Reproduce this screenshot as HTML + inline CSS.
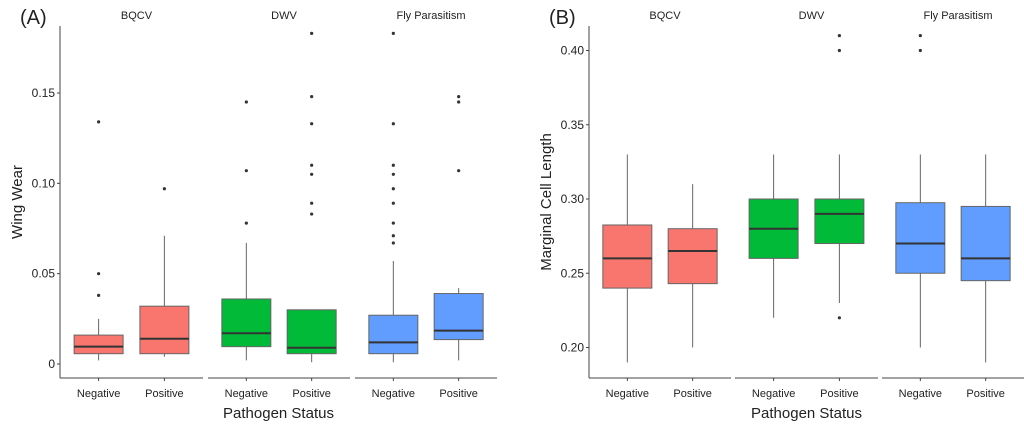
<!DOCTYPE html>
<html><head><meta charset="utf-8">
<style>
body{margin:0;background:#fff;}
svg text{font-family:"Liberation Sans",sans-serif;fill:#222;}
</style></head>
<body>
<svg id="chart" width="1024" height="433" viewBox="0 0 1024 433" xmlns="http://www.w3.org/2000/svg"></svg>
<script>
// ---- data ----
const facets = ["BQCV", "DWV", "Fly Parasitism"];
const statuses = ["Negative", "Positive"];
const colors = ["#F8766D", "#00BA38", "#619CFF"];
// Panel A: Wing Wear  [lowWhisker, q1, median, q3, highWhisker]
const wingStats = [
  [0.002, 0.0057, 0.0096, 0.016, 0.025],
  [0.004, 0.0057, 0.014, 0.032, 0.071],
  [0.002, 0.0096, 0.017, 0.036, 0.067],
  [0.001, 0.0057, 0.009, 0.030, 0.030],
  [0.001, 0.0057, 0.012, 0.027, 0.057],
  [0.002, 0.0135, 0.0185, 0.039, 0.042]
];
const wingOutliers = [
  [0.038, 0.050, 0.134],
  [0.097],
  [0.078, 0.107, 0.145],
  [0.083, 0.089, 0.105, 0.110, 0.133, 0.148, 0.183],
  [0.067, 0.071, 0.078, 0.089, 0.097, 0.105, 0.110, 0.133, 0.183],
  [0.107, 0.145, 0.148]
];
const wingTicks = [0, 0.05, 0.10, 0.15];
const wingTickLabels = ["0", "0.05", "0.10", "0.15"];
// Panel B: Marginal Cell Length
const cellStats = [
  [0.19, 0.24, 0.26, 0.2825, 0.33],
  [0.20, 0.243, 0.265, 0.28, 0.31],
  [0.22, 0.26, 0.28, 0.30, 0.33],
  [0.23, 0.27, 0.29, 0.30, 0.33],
  [0.20, 0.25, 0.27, 0.2975, 0.33],
  [0.19, 0.245, 0.26, 0.295, 0.33]
];
const cellOutliers = [[], [], [], [0.22, 0.40, 0.41], [0.40, 0.41], []];
const cellTicks = [0.20, 0.25, 0.30, 0.35, 0.40];
const cellTickLabels = ["0.20", "0.25", "0.30", "0.35", "0.40"];

const NS = "http://www.w3.org/2000/svg";
const svg = document.getElementById("chart");
function mk(tag, attrs, parent) {
  const e = document.createElementNS(NS, tag);
  for (const k in attrs) e.setAttribute(k, attrs[k]);
  (parent || svg).appendChild(e);
  return e;
}

function panel(cfg) {
  const g = mk("g", {});
  
  
  const y = v => cfg.y0 + (v - cfg.d0) / (cfg.d1 - cfg.d0) * (cfg.y1 - cfg.y0);
  // tag
  const tag = mk("text", {x: cfg.axisX - 40, y: 24, "font-size": 20}, g);
  tag.textContent = cfg.tag;
  
  
  // y axis
  const ax = mk("line", {x1: cfg.axisX, x2: cfg.axisX, y1: 26, y2: 378, stroke: "#444", "stroke-width": 1}, g);
  
  
  cfg.ticks.forEach((t, i) => {
    const ty = y(t);
    mk("line", {x1: cfg.axisX - 3, x2: cfg.axisX, y1: ty, y2: ty, stroke: "#444"}, g);
    const tl = mk("text", {x: cfg.axisX - 5, y: ty + 4, "font-size": 12, "text-anchor": "end"}, g);
    tl.textContent = cfg.tickLabels[i];
    
    
  });
  const yt = mk("text", {x: 0, y: 0, "font-size": 15, "text-anchor": "middle", transform: `translate(${cfg.axisX - 38},${(26 + 378) / 2}) rotate(-90)`}, g);
  yt.textContent = cfg.yTitle;
  
  
  // facets
  cfg.segs.forEach((s, f) => {
    const xa = mk("line", {x1: s[0], x2: s[1], y1: 378, y2: 378, stroke: "#444"}, g);
    
    
    const st = mk("text", {x: (s[0] + s[1]) / 2 + 5, y: 19, "font-size": 11, "text-anchor": "middle"}, g);
    st.textContent = facets[f];
    
    
    statuses.forEach((stat, k) => {
      const idx = f * 2 + k;
      const cx = s[0] + (s[1] - s[0]) * (k === 0 ? 0.27 : 0.73);
      const w = 49;
      const d = cfg.stats[idx];
      mk("line", {x1: cx, x2: cx, y1: 378, y2: 381, stroke: "#444"}, g);
      const xl = mk("text", {x: cx, y: 397, "font-size": 11, "text-anchor": "middle"}, g);
      xl.textContent = stat;
      
      
      const bg = mk("g", {}, g);
      
      
      mk("line", {x1: cx, x2: cx, y1: y(d[0]), y2: y(d[4]), stroke: "#666", "stroke-width": 1}, bg);
      mk("rect", {x: cx - w / 2, y: y(d[3]), width: w, height: y(d[1]) - y(d[3]), fill: colors[f], stroke: "#666", "stroke-width": 1}, bg);
      mk("line", {x1: cx - w / 2, x2: cx + w / 2, y1: y(d[2]), y2: y(d[2]), stroke: "#333", "stroke-width": 2}, bg);
      cfg.outliers[idx].forEach(o => {
        const c = mk("circle", {cx: cx, cy: y(o), r: 1.6, fill: "#333"}, bg);
        
        
      });
    });
  });
  const xt = mk("text", {x: (cfg.segs[0][0] + cfg.segs[2][1]) / 2, y: 418, "font-size": 15, "text-anchor": "middle"}, g);
  xt.textContent = "Pathogen Status";
  
  
}

panel({name: "panel-a-wing-wear", tag: "(A)", axisX: 60, y0: 364, y1: 93, d0: 0, d1: 0.15,
  ticks: wingTicks, tickLabels: wingTickLabels, yTitle: "Wing Wear",
  segs: [[60, 203], [208, 350], [355, 497]], stats: wingStats, outliers: wingOutliers});
panel({name: "panel-b-marginal-cell", tag: "(B)", axisX: 589, y0: 347.5, y1: 50.5, d0: 0.20, d1: 0.40,
  ticks: cellTicks, tickLabels: cellTickLabels, yTitle: "Marginal Cell Length",
  segs: [[589, 731], [735, 878], [882, 1024]], stats: cellStats, outliers: cellOutliers});
</script>
</body></html>
